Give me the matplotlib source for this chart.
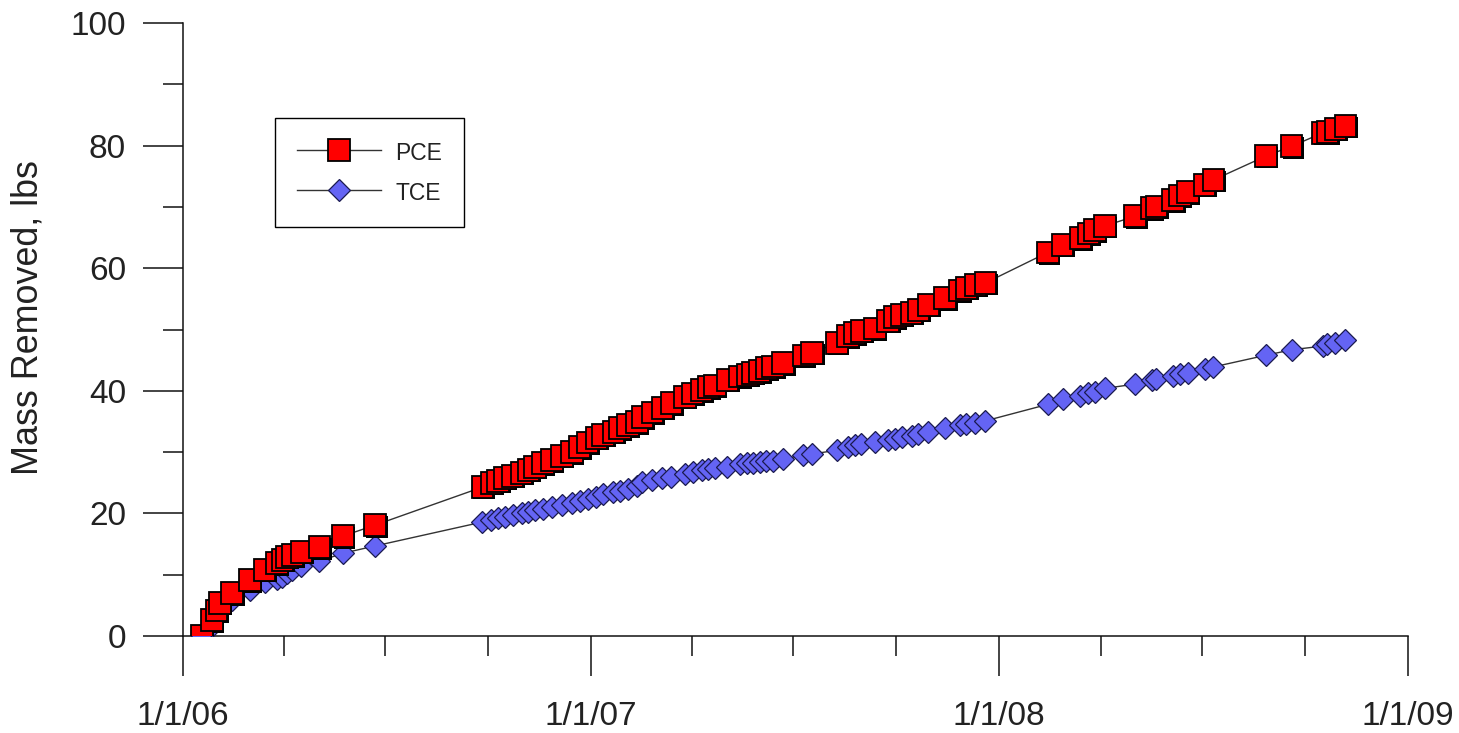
import datetime as dt
import matplotlib
matplotlib.use("Agg")
import matplotlib.pyplot as plt
import matplotlib.dates as mdates
import matplotlib.patheffects as pe
from matplotlib.lines import Line2D
from matplotlib.ticker import FuncFormatter, MultipleLocator

# sample dates (shared by both compounds)
dates = [
    "2006-01-18", "2006-01-27", "2006-01-31", "2006-02-03", "2006-02-14",
    "2006-03-02", "2006-03-15", "2006-03-26", "2006-03-31", "2006-04-04",
    "2006-04-09", "2006-04-17", "2006-05-03", "2006-05-24", "2006-06-22",
    "2006-09-26", "2006-10-04", "2006-10-10", "2006-10-16", "2006-10-23",
    "2006-10-31", "2006-11-06", "2006-11-12", "2006-11-19", "2006-11-27",
    "2006-12-06", "2006-12-15", "2006-12-22", "2006-12-29", "2007-01-06",
    "2007-01-12", "2007-01-21", "2007-01-27", "2007-02-03", "2007-02-11",
    "2007-02-16", "2007-02-25", "2007-03-06", "2007-03-14", "2007-03-26",
    "2007-04-02", "2007-04-10", "2007-04-16", "2007-04-22", "2007-05-03",
    "2007-05-14", "2007-05-21", "2007-05-26", "2007-06-01", "2007-06-07",
    "2007-06-13", "2007-06-22", "2007-07-10", "2007-07-18",
    "2007-08-09", "2007-08-19", "2007-08-25", "2007-08-31", "2007-09-12",
    "2007-09-24", "2007-09-30", "2007-10-06", "2007-10-15", "2007-10-21",
    "2007-10-30", "2007-11-14", "2007-11-27", "2007-12-03", "2007-12-11",
    "2007-12-20",
    "2008-02-14", "2008-02-27", "2008-03-14", "2008-03-21", "2008-03-27",
    "2008-04-05", "2008-05-02", "2008-05-17", "2008-05-21", "2008-06-05",
    "2008-06-11", "2008-06-18", "2008-07-03", "2008-07-11", "2008-08-27",
    "2008-09-19", "2008-10-17", "2008-10-21", "2008-10-28", "2008-11-06",
]

pce = [
    0.0, 2.6, 4.2, 5.4, 7.0, 9.1, 10.8, 11.9, 12.4, 12.9,
    13.2, 13.7, 14.5, 16.3, 18.1,
    24.3, 25.0, 25.3, 25.8, 26.1, 26.6, 27.1, 27.6, 28.2, 28.7,
    29.4, 30.0, 30.8, 31.6, 32.3, 32.8, 33.3, 33.9, 34.4, 34.9,
    35.7, 36.5, 37.2, 38.0, 39.0, 39.6, 40.1, 40.6, 40.9, 41.8,
    42.3, 42.6, 42.9, 43.2, 43.7, 44.0, 44.5, 45.8, 46.2,
    47.8, 48.9, 49.4, 49.8, 50.2, 51.4, 52.0, 52.4, 52.7, 53.2,
    54.0, 55.1, 56.4, 56.8, 57.3, 57.6,
    62.6, 63.8, 64.9, 65.7, 66.2, 66.9, 68.5, 69.8, 70.1, 71.1,
    71.9, 72.4, 73.6, 74.4, 78.3, 79.9, 82.1, 82.2, 82.7, 83.2,
]

tce = [
    0.0, 1.6, 3.1, 4.2, 5.9, 7.5, 8.8, 9.3, 9.7, 10.2,
    10.8, 11.4, 12.2, 13.5, 14.7,
    18.6, 18.9, 19.2, 19.4, 19.7, 20.1, 20.2, 20.6, 20.7, 21.0,
    21.4, 21.7, 22.0, 22.3, 22.7, 23.2, 23.5, 23.7, 24.0, 24.5,
    25.1, 25.4, 25.7, 25.9, 26.5, 26.8, 27.1, 27.3, 27.4, 27.6,
    28.1, 28.2, 28.3, 28.4, 28.5, 28.6, 28.9, 29.5, 29.7,
    30.3, 30.8, 31.1, 31.3, 31.6, 32.0, 32.2, 32.4, 32.6, 32.9,
    33.3, 33.9, 34.4, 34.6, 34.8, 35.1,
    37.8, 38.6, 39.2, 39.6, 39.8, 40.4, 41.1, 41.7, 42.0, 42.4,
    42.7, 42.9, 43.6, 43.9, 45.8, 46.7, 47.3, 47.6, 47.8, 48.3,
]

x = [dt.datetime.strptime(d, "%Y-%m-%d") for d in dates]

plt.rcParams["font.family"] = ["Liberation Sans", "DejaVu Sans"]
text_color = "#222222"

fig = plt.figure(figsize=(14.59, 7.33), dpi=100)
ax = fig.add_axes([0.1254, 0.1323, 0.8396, 0.8363])

pce_face = "#ff0000"
tce_face = "#6464f4"
sq_ms = 15.5
dm_ms = 11.5

# connecting lines
ax.plot(x, pce, color="#333333", lw=1.0, zorder=2)
ax.plot(x, tce, color="#333333", lw=1.0, zorder=2)

# markers
ax.plot(x, tce, ls="none", marker="D", ms=dm_ms, mfc=tce_face, mec="#1a1a50",
        mew=0.9, zorder=3)
ax.plot(x, pce, ls="none", marker="s", ms=sq_ms, mfc=pce_face, mec="black",
        mew=1.3, zorder=4,
        path_effects=[pe.SimplePatchShadow(offset=(1.2, -1.2), shadow_rgbFace="black",
                                           alpha=1.0), pe.Normal()])

ax.set_xlim(dt.datetime(2006, 1, 1), dt.datetime(2009, 1, 1))
ax.set_ylim(0, 100)

ax.xaxis.set_major_locator(mdates.YearLocator())
ax.xaxis.set_minor_locator(mdates.MonthLocator(bymonth=[4, 7, 10]))
ax.xaxis.set_major_formatter(
    FuncFormatter(lambda v, p: "{d.month}/{d.day}/{y}".format(
        d=mdates.num2date(v), y=mdates.num2date(v).strftime("%y"))))
ax.yaxis.set_major_locator(MultipleLocator(20))
ax.yaxis.set_minor_locator(MultipleLocator(10))

for s in ["top", "right"]:
    ax.spines[s].set_visible(False)
for s in ["left", "bottom"]:
    ax.spines[s].set_linewidth(1.1)
    ax.spines[s].set_color("#111111")

ax.tick_params(which="major", direction="out", length=29, width=1.1,
               color="#111111", labelsize=24, labelcolor=text_color)
ax.tick_params(which="minor", direction="out", length=14.5, width=1.1,
               color="#111111")
ax.tick_params(axis="x", which="major", pad=18)
ax.tick_params(axis="y", which="major", pad=12)

ax.set_ylabel("Mass Removed, lbs", fontsize=25.8, color=text_color, labelpad=18)
ax.yaxis.label.set_y(0.52)

handles = [
    Line2D([], [], color="#333333", lw=1.0, marker="s", ms=sq_ms, mfc=pce_face,
           mec="black", mew=1.3),
    Line2D([], [], color="#333333", lw=1.0, marker="D", ms=dm_ms, mfc=tce_face,
           mec="#1a1a50", mew=0.9),
]
leg = ax.legend(handles, ["PCE", "TCE"], loc="upper left",
                bbox_to_anchor=(0.075, 0.845), fontsize=16.5, frameon=True,
                fancybox=False, framealpha=1, edgecolor="black",
                handlelength=3.7, handleheight=1.35, handletextpad=0.6,
                labelspacing=0.6, borderpad=0.95, borderaxespad=0)
leg.get_frame().set_linewidth(1.0)
for t in leg.get_texts():
    t.set_color(text_color)

fig.savefig("out.png", dpi=100)
